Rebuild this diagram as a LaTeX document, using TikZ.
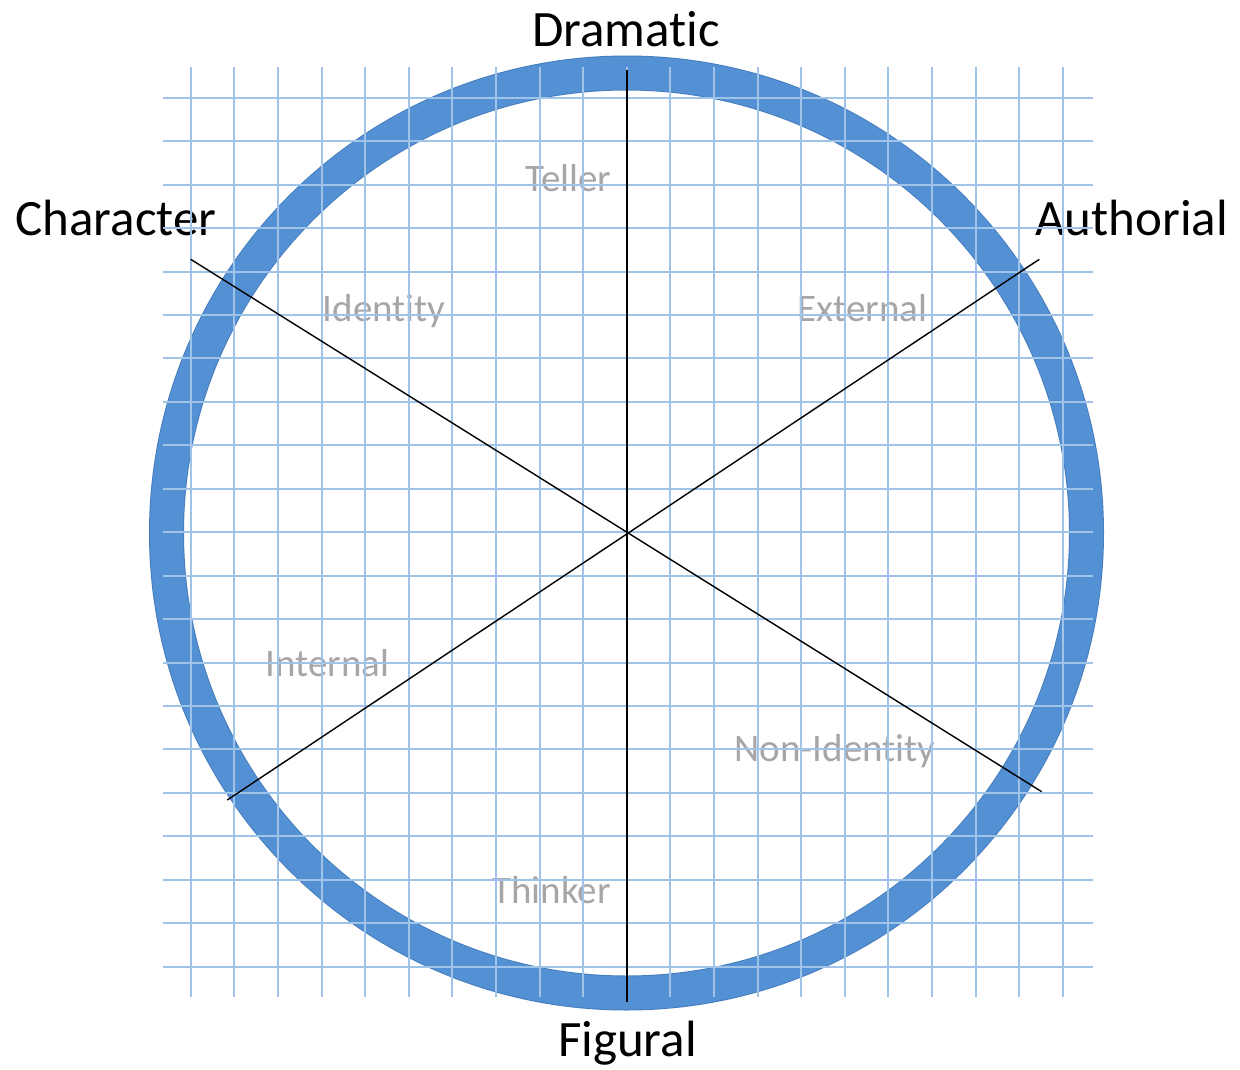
\documentclass[tikz,border=0pt]{standalone}
\usepackage{fontspec}
\setmainfont{Carlito}[Ligatures=NoCommon]
\definecolor{ringblue}{RGB}{84,145,212}
\definecolor{ringedge}{RGB}{70,125,190}
\definecolor{gridblue}{RGB}{160,196,232}
\definecolor{softgrey}{RGB}{166,166,166}
\begin{document}
\begin{tikzpicture}[x=1bp,y=-1bp,
  pole/.style={font=\fontsize{51bp}{60bp}\selectfont, text=black, inner sep=0pt, anchor=base},
  facet/.style={font=\fontsize{39bp}{46bp}\selectfont, text=softgrey, inner sep=0pt, anchor=base},
  gridline/.style={draw=gridblue, line width=2bp},
  axis/.style={draw=black, line width=1.4bp}]
\useasboundingbox (0,0) rectangle (1240,1070);
\fill[white] (0,0) rectangle (1240,1070);
% ring
\coordinate (c) at (626.5,533);
\draw[ringedge, line width=35bp] (c) circle[radius=460];
\draw[ringblue, line width=33bp] (c) circle[radius=460];
% labels
\node[pole] (dramatic) at (626,46.7) {Dramatic};
\node[pole] (figural) at (627.5,1056.7) {Figural};
\node[pole] (character) at (116,235) {Character};
\node[pole] (authorial) at (1131.5,235) {Authorial};
\node[facet] (teller) at (568.5,191.7) {Teller};
\node[facet] (thinker) at (551.5,903.3) {Thinker};
\node[facet] (identity) at (384,321.7) {Identity};
\node[facet] (external) at (862.5,321.7) {External};
\node[facet] (internal) at (327.5,676.7) {Internal};
\node[facet] (nonidentity) at (835,761.7) {Non-Identity};
% grid
\foreach \k in {0,...,20} {
  \draw[gridline] ({190.7+43.6*\k},67) -- ({190.7+43.6*\k},997);
  \draw[gridline] (163,{97.7+43.45*\k}) -- (1093,{97.7+43.45*\k});
}
% axes
\coordinate (top) at (627,70);
\coordinate (bottom) at (627,1002);
\coordinate (charend) at (190.7,259.3);
\coordinate (nonidend) at (1041.7,791.7);
\coordinate (authend) at (1039.3,259.3);
\coordinate (intend) at (227.3,800);
\draw[axis] (top) -- (bottom);
\draw[axis] (charend) -- (nonidend);
\draw[axis] (authend) -- (intend);
\end{tikzpicture}
\end{document}
